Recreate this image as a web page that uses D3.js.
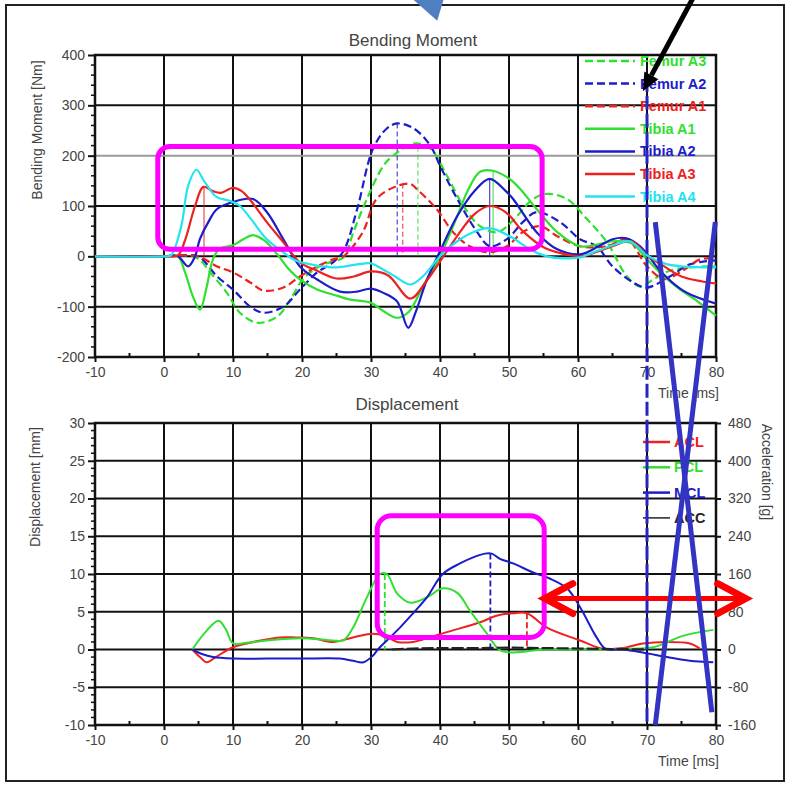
<!DOCTYPE html>
<html><head><meta charset="utf-8">
<script src="https://cdn.jsdelivr.net/npm/d3@7"></script>
<style>body{margin:0;background:#fff}svg{display:block}text{font-family:"Liberation Sans",Arial,sans-serif}</style>
</head><body><svg id="c" width="788" height="787"></svg>
<script>
// ---------- data ----------
const timeTicks = [-10,0,10,20,30,40,50,60,70,80];
const momentTicks = [-200,-100,0,100,200,300,400];
const dispTicks = [-10,-5,0,5,10,15,20,25,30];
const accTicks = [-160,-80,0,80,160,240,320,400,480];

const femurA3 = [[-10,0],[0,0],[3,2],[5,-5],[6.7,-32],[9.1,-72],[11,-112],[13.5,-132],[16.4,-120],[18.3,-86],[20.1,-46],[22,-24],[24,-12],[26,-2],[27.5,50],[29.4,114],[31.8,180],[33.2,200],[36.2,224],[38.6,214],[41,160],[43.4,100],[45.8,60],[48.3,48],[50.5,70],[53.5,114],[55.5,124],[58.4,114],[61.3,74],[64.2,28],[67.1,-40],[69,-60],[70.9,-46],[73,-30],[76,-22],[80,-20]];
const femurA2 = [[-10,0],[0,0],[3,2],[5,0],[7.7,-40],[10,-66],[12.5,-100],[14.4,-112],[17.3,-100],[19.7,-66],[22.2,-32],[24.5,-12],[26,10],[28,94],[30.3,214],[32.3,254],[33.8,264],[36.2,254],[38.6,220],[40,180],[42.5,114],[45.4,48],[47.2,20],[49.7,34],[52,68],[54,88],[57.4,68],[60.3,34],[62.7,20],[65,-20],[68,-52],[70,-62],[73.3,-40],[76.2,-16],[80,-8]];
const femurA1 = [[-10,0],[0,0],[3,2],[5,0],[7.7,-20],[10,-32],[12.5,-52],[14.4,-68],[17.3,-62],[19.7,-40],[22.2,-20],[24.5,-6],[26,0],[28.8,48],[30.8,114],[33.8,140],[35.7,144],[36.6,134],[39.5,94],[41.9,48],[44.3,20],[47.2,8],[49.7,20],[52,48],[54.5,60],[57,40],[60.3,20],[64.2,20],[67.1,34],[70,-20],[72.5,-45],[75,-30],[77.7,-6],[80,-4]];
const tibiaA1 = [[-10,0],[0,0],[2,0],[3,-30],[4.2,-80],[5.2,-106],[6.2,-60],[7,-10],[8,15],[10,22],[11.5,34],[12.9,42],[14.5,32],[16.4,4],[18,-24],[19.7,-46],[22.2,-66],[25,-78],[27,-86],[29.9,-92],[31.5,-106],[33.7,-122],[35.5,-110],[37.5,-60],[40,0],[42.5,80],[44,130],[45.8,168],[47.7,170],[50.6,148],[54,94],[57,48],[60.3,20],[63,24],[65,30],[67.8,26],[70,-6],[72.5,-40],[74.8,-66],[77,-86],[80,-118]];
const tibiaA2 = [[-10,0],[0,0],[2,0],[3.5,-20],[4.5,0],[5.2,34],[6.5,70],[7.7,94],[10,108],[12.9,114],[14.9,88],[17.3,34],[19.7,-20],[22.2,-46],[25.5,-70],[28,-70],[30,-64],[32,-74],[33.8,-90],[35.4,-142],[36.5,-110],[38,-50],[40,10],[42.5,80],[45,130],[47.2,154],[49.5,130],[50.6,114],[54,48],[57,14],[60.3,4],[63,20],[65,34],[67,36],[69,20],[72,-30],[74.8,-64],[77,-80],[80,-94]];
const tibiaA3 = [[-10,0],[0,0],[2,2],[3,30],[4.5,100],[5.7,138],[7,130],[8.2,126],[10,136],[11.2,130],[12.5,112],[14.9,68],[17.3,28],[19.7,-12],[22.1,-28],[25,-44],[27.5,-40],[30,-30],[32.5,-38],[35.7,-84],[38,-50],[40.5,0],[43,50],[45,84],[47.2,100],[49.5,88],[52,50],[55,18],[57,8],[60.3,0],[63,10],[65,20],[67.8,30],[70,2],[72.5,-20],[75,-40],[78,-50],[80,-54]];
const tibiaA4 = [[-10,0],[0,0],[1,2],[2.5,60],[3.5,140],[4.7,172],[5.8,150],[7.6,118],[9.6,110],[11,100],[12.5,76],[14.9,34],[17.3,8],[19,-8],[22,-18],[25,-22],[28,-16],[30,-14],[31.5,-24],[33.5,-40],[35.7,-56],[37.5,-40],[40,0],[42.5,30],[44.8,48],[47.2,56],[50.6,36],[53,14],[55.5,0],[58,-4],[60.3,-2],[63,12],[65.5,24],[67.5,30],[70,2],[72.5,-14],[75,-20],[80,-22]];

const acl = [[4.1,0],[5.2,-1],[6.2,-1.7],[7.5,-1],[10,0.3],[12,0.8],[14,1.2],[16.8,1.6],[19,1.6],[21.6,1.5],[24.5,1],[27.4,1.6],[30.3,2.1],[32,1.8],[33.8,1],[36.1,1],[38.5,1.6],[41,2.3],[45.8,3.6],[48.3,4.5],[50.6,4.8],[52.6,4.8],[55.5,2.9],[60.3,1.2],[63.6,0.1],[66.5,0.2],[69.4,0.8],[72.9,1],[76.2,0.8],[77.7,0.1]];
const pcl = [[4.1,0],[6,2.3],[7.9,3.8],[9,2.6],[10,0.8],[12,0.9],[14.9,1.2],[19.7,1.5],[24.5,1.2],[26,1.2],[27.4,2.9],[29.4,6.9],[31.3,10],[32.3,10],[33.8,7.4],[35.7,6.2],[38.1,6.9],[40.4,8.1],[42.5,7.5],[44.3,5.2],[46.8,2.1],[48.7,-0.1],[50.6,-0.4],[55,0],[60,0],[66.5,0.1],[70.9,0.3],[75.2,1.8],[79.6,2.6]];
const mcl = [[4.1,0],[5.5,-0.6],[7.1,-1],[10,-1.2],[15,-1.2],[20,-1.2],[25.5,-1.2],[27.4,-1.5],[28.9,-1.7],[30.3,-0.8],[31,0],[32.3,1.2],[34.2,2.9],[36.1,4.8],[38.1,6.9],[40.4,10],[42.9,11.4],[44.8,12.2],[46.5,12.7],[47.5,12.7],[48.7,12],[50.6,11.4],[53.5,10.2],[55.9,9.4],[58.4,8.1],[60.3,5.6],[62.7,1.6],[64,0.1],[66.5,0],[69.4,-0.4],[72.9,-1],[76.2,-1.5],[79.6,-1.7]];
const acc = [[33,0],[36,2],[40,3],[45,3],[50,4],[55,3],[60,2],[65,1],[70,0]];

const topNames = ["Femur A3","Femur A2","Femur A1","Tibia A1","Tibia A2","Tibia A3","Tibia A4"];
const topSeries = [femurA3,femurA2,femurA1,tibiaA1,tibiaA2,tibiaA3,tibiaA4];
const topPeaks = [[36.8,218,0],[33.8,264,1],[34.6,144,2],[47.7,170,3],[47.2,154,4],[5.8,138,5]];
const botNames = ["ACL","PCL","MCL","ACC"];
const botPeaks = [[32,10,1],[47.3,12.7,2],[52.6,4.8,0]];

// ---------- styles ----------
const topColors = ["#2fe02f","#1c1cc8","#ee2020","#2fe02f","#1c1cc8","#ee2020","#22e4f0"];
const topDash = ["8,4","8,4","8,4",null,null,null,null];
const botColors = ["#ee2020","#2fe02f","#1c1cc8","#222"];
const FS = 14;

const svg = d3.select("#c");
const L = 95, R = 716;
const x = d3.scaleLinear().domain([-10,80]).range([L,R]);
const yT = d3.scaleLinear().domain([-200,400]).range([357,55]);
const yB = d3.scaleLinear().domain([-10,30]).range([725,423]);
const yA = d3.scaleLinear().domain([-160,480]).range([725,423]);
const fmt = d => d<0 ? "-"+Math.abs(d) : d;

svg.append("rect").attr("x",6).attr("y",5).attr("width",778).attr("height",776)
  .attr("fill","none").attr("stroke","#222").attr("stroke-width",2);

function panel(y, ticks, minorStep, title, titleX, titleY) {
  const [y0,y1] = y.domain();
  const g = svg.append("g");
  timeTicks.forEach(t => {
    g.append("line").attr("x1",x(t)).attr("x2",x(t)).attr("y1",y(y1)).attr("y2",y(y0))
      .attr("stroke","#111").attr("stroke-width",2);
  });
  ticks.forEach(v => {
    g.append("line").attr("x1",L).attr("x2",R).attr("y1",y(v)).attr("y2",y(v))
      .attr("stroke", (y===yT && v===200) ? "#9a9a9a" : "#111").attr("stroke-width",2);
  });
  g.append("rect").attr("x",L).attr("y",y(y1)).attr("width",R-L).attr("height",y(y0)-y(y1))
    .attr("fill","none").attr("stroke","#111").attr("stroke-width",2.5);
  const xa = d3.axisBottom(x).tickValues(timeTicks).tickSize(5).tickPadding(5);
  const ax = g.append("g").attr("transform",`translate(0,${y(y0)})`).call(xa);
  ax.select(".domain").remove();
  ax.selectAll("line").attr("stroke","#111").attr("stroke-width",2);
  ax.selectAll("text").attr("font-size",FS).attr("fill","#444").text(fmt);
  d3.range(-5,80,10).forEach(t => {
    g.append("line").attr("x1",x(t)).attr("x2",x(t)).attr("y1",y(y0)).attr("y2",y(y0)-4)
      .attr("stroke","#111").attr("stroke-width",2);
  });
  const ya = d3.axisLeft(y).tickValues(ticks).tickSize(7).tickPadding(3);
  const ay = g.append("g").attr("transform",`translate(${L},0)`).call(ya);
  ay.select(".domain").remove();
  ay.selectAll("line").attr("stroke","#111").attr("stroke-width",2);
  ay.selectAll("text").attr("font-size",FS).attr("fill","#444").text(fmt);
  d3.range(y0, y1+0.001, minorStep).forEach(v => {
    if (ticks.includes(v)) return;
    g.append("line").attr("x1",L-4).attr("x2",L).attr("y1",y(v)).attr("y2",y(v))
      .attr("stroke","#111").attr("stroke-width",1.5);
  });
  svg.append("text").attr("x",titleX).attr("y",titleY).attr("text-anchor","middle")
    .attr("font-size",17).attr("fill","#444").text(title);
  svg.append("text").attr("x",R+3).attr("y",y(y0)+41).attr("text-anchor","end")
    .attr("font-size",FS).attr("fill","#444").text("Time [ms]");
  return g;
}

panel(yT, momentTicks, 20, "Bending Moment", 413, 46);
panel(yB, dispTicks, 1, "Displacement", 407, 410);

svg.append("text").attr("transform","translate(42,130) rotate(-90)").attr("text-anchor","middle")
  .attr("font-size",FS).attr("fill","#444").text("Bending Moment [Nm]");
svg.append("text").attr("transform","translate(40,487) rotate(-90)").attr("text-anchor","middle")
  .attr("font-size",FS).attr("fill","#444").text("Displacement [mm]");

const ra = d3.axisRight(yA).tickValues(accTicks).tickSize(5).tickPadding(7);
const arx = svg.append("g").attr("transform",`translate(${R},0)`).call(ra);
arx.select(".domain").remove();
arx.selectAll("line").attr("stroke","#111").attr("stroke-width",2);
arx.selectAll("text").attr("font-size",FS).attr("fill","#444").text(fmt);
svg.append("text").attr("transform","translate(762,472) rotate(90)").attr("text-anchor","middle")
  .attr("font-size",FS).attr("fill","#444").text("Acceleration [g]");

// ---------- series ----------
const lineT = d3.line().x(d=>x(d[0])).y(d=>yT(d[1])).curve(d3.curveCatmullRom.alpha(0.5));
const lineB = d3.line().x(d=>x(d[0])).y(d=>yB(d[1])).curve(d3.curveCatmullRom.alpha(0.5));
const lineA = d3.line().x(d=>x(d[0])).y(d=>yA(d[1])).curve(d3.curveCatmullRom.alpha(0.5));

topPeaks.forEach(([t,v,i]) => {
  svg.append("line").attr("x1",x(t)).attr("x2",x(t)).attr("y1",yT(v)).attr("y2",yT(0))
    .attr("stroke",topColors[i]).attr("stroke-width",1.2).attr("stroke-dasharray",topDash[i]?"5,3":null)
    .attr("opacity",0.8);
});
topSeries.forEach((s,i) => {
  svg.append("path").datum(s).attr("d",lineT).attr("fill","none")
    .attr("stroke",topColors[i]).attr("stroke-width",2.2)
    .attr("stroke-dasharray",topDash[i]);
});

botPeaks.forEach(([t,v,i]) => {
  svg.append("line").attr("x1",x(t)).attr("x2",x(t)).attr("y1",yB(v)).attr("y2",yB(0))
    .attr("stroke",botColors[i]).attr("stroke-width",1.8).attr("stroke-dasharray","6,3");
});
[acl,pcl,mcl].forEach((s,i) => {
  svg.append("path").datum(s).attr("d",lineB).attr("fill","none")
    .attr("stroke",botColors[i]).attr("stroke-width",2);
});
svg.append("path").datum(acc).attr("d",lineA).attr("fill","none")
  .attr("stroke",botColors[3]).attr("stroke-width",2.2).attr("stroke-dasharray","12,3");

// ---------- legends ----------
const legT = svg.append("g");
topNames.forEach((n,i) => {
  const yy = 61 + i*22.6;
  legT.append("line").attr("x1",585).attr("x2",635).attr("y1",yy).attr("y2",yy)
    .attr("stroke",topColors[i]).attr("stroke-width",2.5).attr("stroke-dasharray",topDash[i]);
  legT.append("text").attr("x",640).attr("y",yy+5).attr("font-size",14.5).attr("font-weight","bold")
    .attr("fill",topColors[i]).text(n);
});
const legB = svg.append("g");
botNames.forEach((n,i) => {
  const yy = 442 + i*25.3;
  legB.append("line").attr("x1",643).attr("x2",670).attr("y1",yy).attr("y2",yy)
    .attr("stroke",botColors[i]).attr("stroke-width",i===3?1.5:2.5);
  legB.append("text").attr("x",674).attr("y",yy+5).attr("font-size",14.5).attr("font-weight","bold")
    .attr("fill",botColors[i]).text(n);
});

// ---------- annotations ----------
svg.append("rect").attr("x",x(-0.9)).attr("y",yT(218)).attr("width",x(54.8)-x(-0.9)).attr("height",yT(14)-yT(218))
  .attr("rx",12).attr("fill","none").attr("stroke","#ff00ff").attr("stroke-width",5);
svg.append("rect").attr("x",x(30.9)).attr("y",yB(17.7)).attr("width",x(55.1)-x(30.9)).attr("height",yB(1.6)-yB(17.7))
  .attr("rx",14).attr("fill","none").attr("stroke","#ff00ff").attr("stroke-width",5);
const ay0 = yB(6.75), ax0 = x(54.9), ax1 = x(84.6);
svg.append("line").attr("x1",ax0).attr("x2",ax1).attr("y1",ay0).attr("y2",ay0).attr("stroke","#ff0000").attr("stroke-width",5);
svg.append("path").attr("d",`M${ax0+30},${ay0-15}L${ax0+2},${ay0}L${ax0+30},${ay0+15}`).attr("fill","none").attr("stroke","#ff0000").attr("stroke-width",7).attr("stroke-linecap","round");
svg.append("path").attr("d",`M${ax1-30},${ay0-15}L${ax1-2},${ay0}L${ax1-30},${ay0+15}`).attr("fill","none").attr("stroke","#ff0000").attr("stroke-width",7).attr("stroke-linecap","round");
svg.append("line").attr("x1",x(70)).attr("x2",x(70)).attr("y1",yT(355)).attr("y2",yB(-10))
  .attr("stroke","#2424c8").attr("stroke-width",3).attr("stroke-dasharray","14,4");
svg.append("line").attr("x1",x(71.2)).attr("y1",yT(68)).attr("x2",x(79.4)).attr("y2",yB(-8.3))
  .attr("stroke","#3434c4").attr("stroke-width",5);
svg.append("line").attr("x1",x(79.9)).attr("y1",yT(68)).attr("x2",x(71.2)).attr("y2",yB(-10))
  .attr("stroke","#3434c4").attr("stroke-width",5);
const bx0 = x(76.7), by0 = yT(514), bx1 = x(69.4), by1 = yT(328);
const ang = Math.atan2(by1-by0, bx1-bx0);
const hl = 18, hw = 8;
const bxb = bx1 - hl*Math.cos(ang), byb = by1 - hl*Math.sin(ang);
svg.append("line").attr("x1",bx0).attr("y1",by0).attr("x2",bxb).attr("y2",byb).attr("stroke","#000").attr("stroke-width",5);
svg.append("path").attr("d",`M${bx1},${by1}L${bxb+hw*Math.sin(ang)},${byb-hw*Math.cos(ang)}L${bxb-hw*Math.sin(ang)},${byb+hw*Math.cos(ang)}Z`).attr("fill","#000");
svg.append("path").attr("d",`M${x(35.8)},${yT(514)}L${x(40.6)},${yT(514)}L${x(39.6)},${yT(468)}Z`).attr("fill","#4f7fc0");
</script></body></html>
